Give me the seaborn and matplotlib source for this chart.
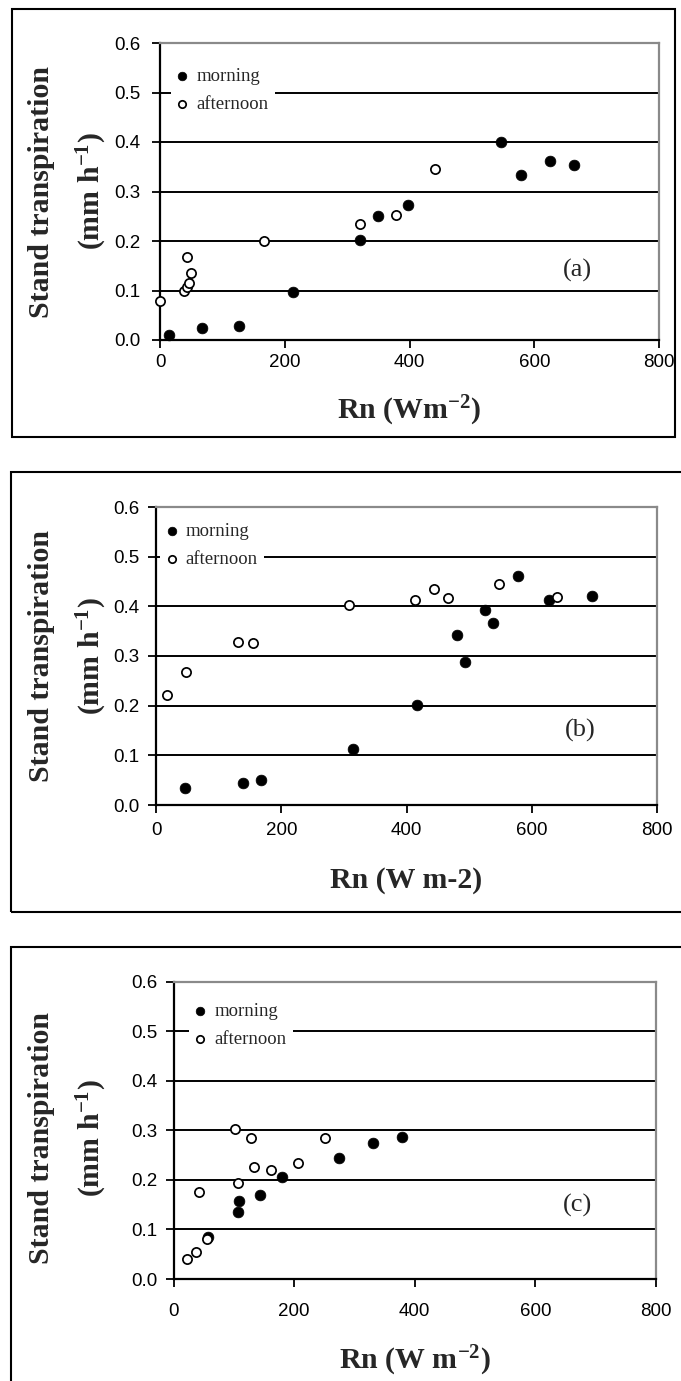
import numpy as np
import pandas as pd
import matplotlib
matplotlib.use("Agg")
import matplotlib.pyplot as plt
import seaborn as sns
from matplotlib.patches import Rectangle
from matplotlib.ticker import FormatStrFormatter

# ---------------- data ----------------
a_morning_rn = [15, 67, 127, 213, 321, 349, 397, 546, 578, 626, 663]
a_morning_t = [0.011, 0.024, 0.029, 0.097, 0.203, 0.250, 0.272, 0.401, 0.333, 0.362, 0.353]
a_afternoon_rn = [0, 39, 43, 46, 50, 43, 167, 321, 379, 441]
a_afternoon_t = [0.078, 0.100, 0.107, 0.116, 0.136, 0.168, 0.200, 0.234, 0.253, 0.346]

b_morning_rn = [45, 139, 167, 315, 417, 481, 494, 526, 538, 578, 627, 697]
b_morning_t = [0.034, 0.044, 0.050, 0.112, 0.201, 0.343, 0.287, 0.393, 0.366, 0.461, 0.412, 0.421]
b_afternoon_rn = [17, 47, 131, 154, 308, 413, 444, 466, 548, 640]
b_afternoon_t = [0.221, 0.267, 0.329, 0.326, 0.402, 0.412, 0.435, 0.416, 0.445, 0.419]

c_morning_rn = [57, 106, 109, 144, 180, 275, 330, 379]
c_morning_t = [0.085, 0.135, 0.157, 0.170, 0.206, 0.245, 0.274, 0.287]
c_afternoon_rn = [22, 37, 55, 42, 101, 106, 129, 134, 162, 206, 251]
c_afternoon_t = [0.040, 0.055, 0.080, 0.176, 0.303, 0.193, 0.284, 0.226, 0.219, 0.235, 0.284]

x_ticks = [0, 200, 400, 600, 800]
y_ticks = [0.0, 0.1, 0.2, 0.3, 0.4, 0.5, 0.6]
series_labels = ["morning", "afternoon"]
panel_letters = ["(a)", "(b)", "(c)"]
x_labels = ["Rn (Wm$^{-2}$)", "Rn (W m-2)", "Rn (W m$^{-2}$)"]
y_label = "Stand transpiration\n(mm h$^{-1}$)"

# ---------------- style ----------------
sns.set_style("white")
plt.rcParams['font.family'] = ['Liberation Sans', 'DejaVu Sans']
plt.rcParams['mathtext.fontset'] = 'custom'
plt.rcParams['mathtext.rm'] = 'Liberation Serif:bold'
plt.rcParams['mathtext.default'] = 'rm'

W, H = 681, 1381
fig = plt.figure(figsize=(W / 100, H / 100), dpi=100)
fig.patch.set_facecolor('white')

panels = [
    dict(m=(a_morning_rn, a_morning_t), a=(a_afternoon_rn, a_afternoon_t),
         axpx=(160, 43, 659, 340), box=(11.7, 9.3, 675, 437),
         ypad=8.3, xpad=4.0, ylab_x=-0.1834, ylab_y=0.5, xlab_y=-0.239,
         leg=(0.022, 0.94), letter=(670, 0.141)),
    dict(m=(b_morning_rn, b_morning_t), a=(b_afternoon_rn, b_afternoon_t),
         axpx=(156.4, 507, 656.7, 805), box=(11, 471.7, 700, 911.7),
         ypad=6.0, xpad=6.3, ylab_x=-0.1757, ylab_y=0.5, xlab_y=-0.252,
         leg=(0.008, 0.97), letter=(677, 0.151)),
    dict(m=(c_morning_rn, c_morning_t), a=(c_afternoon_rn, c_afternoon_t),
         axpx=(173.7, 981.7, 655.8, 1279), box=(11, 946.7, 700, 1400),
         ypad=5.7, xpad=11.0, ylab_x=-0.2182, ylab_y=0.473, xlab_y=-0.276,
         leg=(0.032, 0.951), letter=(670, 0.149)),
]

for i, p in enumerate(panels):
    # outer frame
    bl, bt, br, bb = p['box']
    fig.patches.append(Rectangle((bl / W, 1 - bb / H), (br - bl) / W, (bb - bt) / H,
                                 transform=fig.transFigure, fill=False,
                                 edgecolor='black', linewidth=1.5, zorder=0))
    l, t, r, b = p['axpx']
    ax = fig.add_axes([l / W, 1 - b / H, (r - l) / W, (b - t) / H])

    dm = pd.DataFrame({'Rn': p['m'][0], 'T': p['m'][1]})
    da = pd.DataFrame({'Rn': p['a'][0], 'T': p['a'][1]})
    sns.scatterplot(data=dm, x='Rn', y='T', ax=ax, color='black', edgecolor='black',
                    s=60, linewidth=0.5, label=series_labels[0], clip_on=False, zorder=3)
    sns.scatterplot(data=da, x='Rn', y='T', ax=ax, color='white', edgecolor='black',
                    s=44, linewidth=1.25, label=series_labels[1], clip_on=False, zorder=4)

    ax.set_xlim(0, 800)
    ax.set_ylim(0, 0.6)
    ax.set_xticks(x_ticks)
    ax.set_yticks(y_ticks)
    ax.yaxis.set_major_formatter(FormatStrFormatter('%.1f'))
    ax.grid(axis='y', color='black', linewidth=1.4)
    ax.grid(axis='x', visible=False)
    ax.set_axisbelow(True)
    gls = ax.yaxis.get_gridlines()
    gls[0].set_visible(False)
    gls[-1].set_visible(False)

    for side in ['left', 'bottom']:
        ax.spines[side].set_color('black')
        ax.spines[side].set_linewidth(1.6)
    for side in ['top', 'right']:
        ax.spines[side].set_color('#8a8a8a')
        ax.spines[side].set_linewidth(1.6)
        ax.spines[side].set_visible(True)

    ax.tick_params(axis='both', direction='out', length=6, width=1.3, color='black',
                   labelsize=13.5, labelcolor='black')
    ax.tick_params(axis='y', pad=p['ypad'], left=True)
    ax.tick_params(axis='x', pad=p['xpad'], bottom=True)

    ax.set_xlabel(x_labels[i], fontfamily='Liberation Serif', fontweight='bold',
                  fontsize=21.5, va='center')
    ax.xaxis.set_label_coords(0.5, p['xlab_y'])
    ax.set_ylabel(y_label, fontfamily='Liberation Serif', fontweight='bold',
                  fontsize=21.5, va='center', ha='center', linespacing=1.77)
    ax.yaxis.set_label_coords(p['ylab_x'], p['ylab_y'])

    ax.text(p['letter'][0], p['letter'][1], panel_letters[i],
            fontfamily='Liberation Serif', fontsize=19, ha='center', va='center')

    leg = ax.legend(loc='upper left', bbox_to_anchor=p['leg'], borderaxespad=0,
                    frameon=True, facecolor='white', edgecolor='none', framealpha=1,
                    fancybox=False, borderpad=0.35, handlelength=0.5,
                    handletextpad=0.5, labelspacing=0.6, markerscale=0.8,
                    prop={'family': 'Liberation Serif', 'size': 13.5})
    leg.set_zorder(5)

fig.savefig('out.png', dpi=100, facecolor='white')
